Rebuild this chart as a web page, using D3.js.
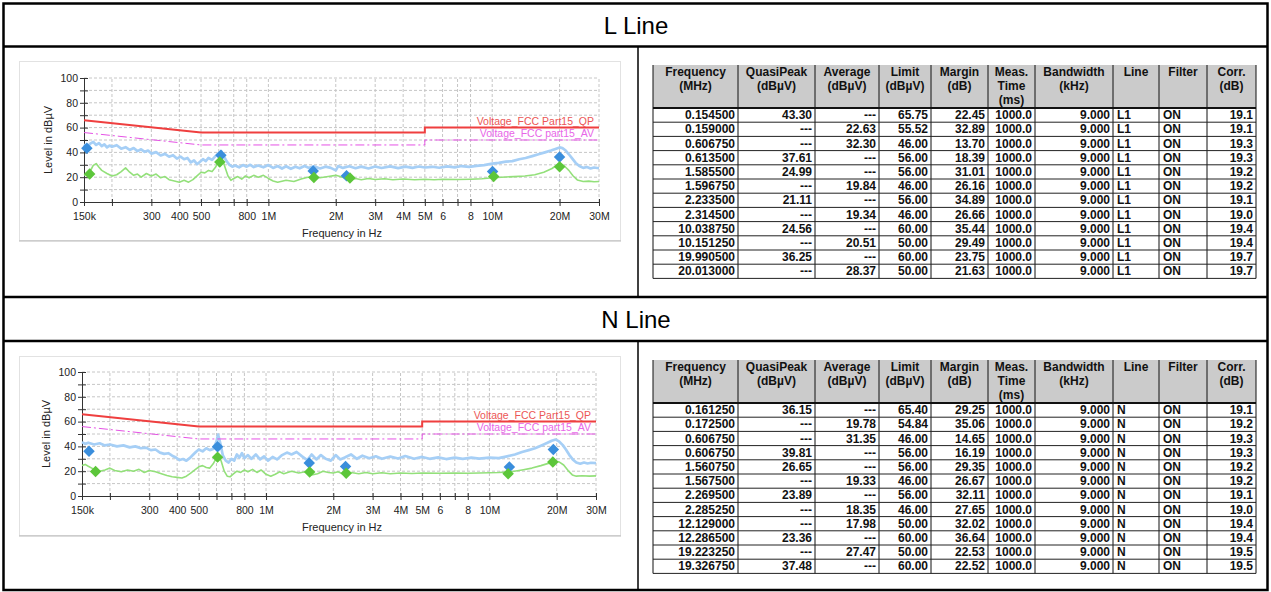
<!DOCTYPE html>
<html lang="en">
<head>
<meta charset="UTF-8">
<title>L Line / N Line</title>
<script src="https://d3js.org/d3.v7.min.js"></script>
<style>
    body {
        margin: 0;
        background: #fff;
    }
    svg {
        display: block;
        font-family: Arial, "Liberation Sans", sans-serif;
    }
    .grid line {
        stroke: #c6c6c6;
        stroke-dasharray: 3, 2;
    }
    .axis text {
        font-size: 10.5px;
    }
    .axis-title {
        font-size: 11px;
        fill: #222;
    }
    .tbl text {
        font-size: 12px;
        font-weight: bold;
        fill: #111;
    }
</style>
</head>
<body>
<svg id="page" width="1271" height="592"></svg>
<script>
// ---- data (frequency in MHz, level in dBuV) ----
const xTickValues = [0.15, 0.2, 0.3, 0.4, 0.5, 0.6, 0.7, 0.8, 1, 2, 3, 4, 5, 6, 7, 8, 10, 20, 30];
const xTickLabels = ["150k", "", "300", "400", "500", "", "", "800", "1M", "2M", "3M", "4M", "5M", "6", "", "8", "10M", "20M", "30M"];
const yTickValues = [0, 10, 20, 30, 40, 50, 60, 70, 80, 90, 100];

const qpLimit = [[0.15, 66], [0.5, 56], [5, 56], [5, 60], [30, 60]];
const avLimit = [[0.15, 56], [0.5, 46], [5, 46], [5, 50], [30, 50]];

const lPeak = [
    [0.150, 46.5], [0.155, 44.5], [0.160, 47.0], [0.165, 48.5], [0.170, 46.0], [0.175, 47.5], [0.180, 45.0],
    [0.185, 46.5], [0.190, 44.0], [0.195, 45.5], [0.200, 44.5], [0.210, 45.8], [0.220, 43.0], [0.230, 44.2],
    [0.240, 42.0], [0.250, 43.5], [0.260, 41.0], [0.270, 42.5], [0.280, 40.5], [0.290, 41.5], [0.300, 39.0],
    [0.315, 40.2], [0.330, 37.5], [0.345, 38.8], [0.360, 36.5], [0.375, 37.8], [0.390, 35.0], [0.405, 36.6],
    [0.420, 34.5], [0.435, 35.5], [0.450, 32.0], [0.465, 33.5], [0.480, 30.5], [0.495, 32.5], [0.510, 34.5],
    [0.525, 33.0], [0.540, 35.5], [0.560, 34.0], [0.580, 37.0], [0.600, 39.5], [0.615, 41.0], [0.630, 37.5],
    [0.650, 33.0], [0.670, 30.0], [0.690, 28.5], [0.710, 29.5], [0.740, 28.0], [0.770, 29.8], [0.800, 28.5],
    [0.830, 30.0], [0.860, 28.2], [0.900, 29.5], [0.950, 28.0], [1.000, 29.8], [1.050, 27.5], [1.100, 29.0],
    [1.150, 27.0], [1.200, 28.8], [1.260, 26.8], [1.320, 28.5], [1.380, 27.2], [1.450, 29.0], [1.520, 27.5],
    [1.600, 28.8], [1.700, 27.0], [1.800, 28.5], [1.900, 27.5], [2.000, 25.5], [2.050, 29.0], [2.150, 27.5],
    [2.300, 28.8], [2.450, 27.2], [2.600, 28.5], [2.800, 27.0], [3.000, 28.6], [3.200, 27.4], [3.500, 28.7],
    [3.800, 27.3], [4.100, 28.5], [4.400, 27.5], [4.700, 28.6], [5.000, 27.8], [5.400, 28.4], [5.800, 27.6],
    [6.300, 28.7], [6.800, 27.9], [7.300, 29.0], [7.900, 28.3], [8.500, 29.2], [9.200, 29.8], [10.00, 31.0],
    [10.70, 31.5], [11.50, 32.5], [12.30, 33.0], [13.20, 34.5], [14.10, 35.5], [15.10, 37.0], [16.10, 38.5],
    [17.20, 40.0], [18.30, 41.5], [19.30, 43.0], [20.00, 44.0], [20.60, 43.5], [21.30, 41.5], [22.00, 38.5],
    [22.80, 35.0], [23.60, 31.5], [24.50, 29.0], [25.50, 27.5], [26.50, 28.2], [27.50, 27.0], [28.50, 27.8],
    [30.00, 27.2]
];

const lAvg = [
    [0.150, 21.5], [0.155, 22.5], [0.160, 25.0], [0.165, 29.5], [0.170, 31.0], [0.175, 28.0], [0.180, 25.5],
    [0.190, 23.0], [0.200, 21.0], [0.210, 22.0], [0.220, 24.5], [0.230, 27.5], [0.240, 24.0], [0.250, 21.5],
    [0.260, 22.5], [0.270, 20.0], [0.285, 23.0], [0.300, 21.0], [0.315, 22.5], [0.330, 19.5], [0.345, 20.5],
    [0.360, 18.0], [0.380, 17.0], [0.400, 16.0], [0.420, 17.5], [0.440, 16.0], [0.460, 18.0], [0.480, 21.0],
    [0.500, 24.0], [0.520, 23.5], [0.540, 25.5], [0.560, 24.5], [0.580, 28.0], [0.600, 33.0], [0.620, 35.5],
    [0.640, 28.0], [0.660, 21.0], [0.680, 17.5], [0.700, 19.0], [0.730, 20.5], [0.760, 18.5], [0.790, 21.0],
    [0.820, 19.5], [0.860, 21.5], [0.900, 20.0], [0.950, 21.5], [1.000, 19.0], [1.050, 17.0], [1.100, 16.0],
    [1.200, 17.5], [1.300, 16.5], [1.400, 18.5], [1.500, 20.0], [1.600, 20.5], [1.700, 19.5], [1.850, 20.5],
    [2.000, 21.5], [2.150, 20.0], [2.300, 17.5], [2.450, 19.0], [2.600, 18.0], [2.800, 19.0], [3.000, 18.2],
    [3.300, 18.8], [3.600, 18.0], [4.000, 18.6], [4.500, 18.0], [5.000, 18.4], [5.500, 18.0], [6.000, 18.3],
    [7.000, 18.1], [8.000, 18.4], [9.000, 18.8], [10.00, 19.5], [11.00, 20.0], [12.50, 20.5], [14.00, 21.0],
    [15.50, 22.0], [17.00, 24.0], [18.50, 27.0], [19.50, 30.0], [20.20, 31.0], [21.00, 29.0], [22.00, 25.5],
    [23.00, 21.0], [24.00, 17.8], [25.50, 16.5], [27.00, 16.8], [28.50, 16.3], [30.00, 16.5]
];

const nPeak = [
    [0.150, 43.5], [0.155, 42.0], [0.160, 43.0], [0.170, 41.5], [0.180, 42.5], [0.190, 40.8], [0.200, 41.5],
    [0.215, 40.0], [0.230, 40.8], [0.245, 39.2], [0.260, 40.0], [0.275, 38.5], [0.290, 39.0], [0.305, 37.0],
    [0.320, 37.5], [0.335, 35.0], [0.350, 34.0], [0.365, 34.5], [0.380, 32.5], [0.395, 31.0], [0.410, 29.0],
    [0.425, 29.8], [0.440, 28.5], [0.455, 30.5], [0.470, 33.0], [0.485, 35.5], [0.500, 37.5], [0.520, 36.0],
    [0.540, 38.5], [0.560, 37.0], [0.580, 38.0], [0.600, 44.0], [0.610, 49.5], [0.625, 42.0], [0.640, 33.0],
    [0.660, 28.5], [0.680, 27.0], [0.700, 30.0], [0.720, 28.5], [0.740, 33.5], [0.760, 31.0], [0.780, 34.5],
    [0.800, 30.5], [0.830, 33.0], [0.860, 30.0], [0.900, 33.5], [0.940, 29.5], [0.980, 32.0], [1.020, 28.5],
    [1.070, 31.5], [1.120, 29.5], [1.180, 33.0], [1.240, 35.0], [1.300, 33.5], [1.370, 35.5], [1.450, 32.0],
    [1.530, 29.0], [1.600, 33.5], [1.680, 29.5], [1.760, 33.0], [1.850, 30.0], [1.950, 28.5], [2.050, 33.0],
    [2.150, 29.5], [2.250, 31.0], [2.400, 33.5], [2.550, 30.0], [2.700, 32.5], [2.900, 30.5], [3.100, 32.0],
    [3.300, 30.0], [3.600, 31.8], [3.900, 30.2], [4.200, 32.2], [4.600, 30.0], [5.000, 31.5], [5.400, 30.0],
    [5.900, 31.2], [6.400, 29.8], [7.000, 31.0], [7.600, 30.0], [8.300, 31.0], [9.000, 30.2], [10.00, 31.0],
    [11.00, 30.5], [12.00, 32.0], [13.00, 33.5], [14.00, 35.5], [15.00, 37.0], [16.00, 38.5], [17.00, 40.5],
    [18.00, 42.5], [19.00, 44.5], [19.80, 45.5], [20.50, 44.0], [21.30, 41.0], [22.00, 37.5], [22.80, 33.0],
    [23.60, 29.5], [24.50, 27.0], [25.50, 26.0], [26.50, 27.0], [27.50, 26.2], [28.50, 26.8], [30.00, 26.5]
];

const nAvg = [
    [0.150, 24.5], [0.155, 25.5], [0.160, 24.0], [0.170, 21.5], [0.180, 20.0], [0.190, 21.0], [0.200, 22.5],
    [0.210, 20.5], [0.225, 19.5], [0.240, 21.0], [0.255, 20.0], [0.270, 21.5], [0.285, 19.0], [0.300, 20.5],
    [0.320, 19.5], [0.340, 18.0], [0.360, 16.5], [0.380, 15.5], [0.400, 15.0], [0.420, 14.5], [0.440, 16.0],
    [0.460, 18.5], [0.480, 21.0], [0.500, 23.5], [0.520, 24.5], [0.540, 23.0], [0.560, 22.5], [0.580, 26.0],
    [0.600, 31.0], [0.615, 33.0], [0.630, 28.0], [0.650, 20.0], [0.670, 16.0], [0.690, 15.5], [0.710, 17.5],
    [0.740, 20.0], [0.770, 19.0], [0.800, 21.0], [0.830, 19.5], [0.870, 21.5], [0.910, 19.0], [0.950, 21.0],
    [1.000, 17.5], [1.050, 16.0], [1.100, 17.5], [1.150, 19.5], [1.200, 18.0], [1.300, 20.0], [1.400, 18.5],
    [1.500, 19.5], [1.600, 17.0], [1.700, 18.0], [1.800, 20.0], [1.900, 19.0], [2.000, 18.5], [2.100, 19.5],
    [2.200, 18.0], [2.400, 19.0], [2.600, 18.0], [2.800, 19.0], [3.000, 18.0], [3.300, 18.8], [3.600, 18.0],
    [4.000, 18.6], [4.500, 18.2], [5.000, 18.5], [6.000, 18.3], [7.000, 18.6], [8.000, 18.4], [9.000, 18.6],
    [10.00, 18.8], [11.00, 19.0], [12.50, 19.5], [14.00, 21.0], [15.50, 22.5], [17.00, 24.5], [18.50, 26.5],
    [19.50, 28.0], [20.50, 27.5], [21.50, 25.0], [22.50, 20.5], [23.50, 17.0], [24.50, 16.0], [26.00, 16.3],
    [28.00, 16.0], [30.00, 16.2]
];

const tableHeaders = [
    ["Frequency", "(MHz)"], ["QuasiPeak", "(dBµV)"], ["Average", "(dBµV)"], ["Limit", "(dBµV)"],
    ["Margin", "(dB)"], ["Meas.", "Time", "(ms)"], ["Bandwidth", "(kHz)"], ["Line"], ["Filter"], ["Corr.", "(dB)"]
];

const lRows = [
    ["0.154500", "43.30", "---", "65.75", "22.45", "1000.0", "9.000", "L1", "ON", "19.1"],
    ["0.159000", "---", "22.63", "55.52", "32.89", "1000.0", "9.000", "L1", "ON", "19.1"],
    ["0.606750", "---", "32.30", "46.00", "13.70", "1000.0", "9.000", "L1", "ON", "19.3"],
    ["0.613500", "37.61", "---", "56.00", "18.39", "1000.0", "9.000", "L1", "ON", "19.3"],
    ["1.585500", "24.99", "---", "56.00", "31.01", "1000.0", "9.000", "L1", "ON", "19.2"],
    ["1.596750", "---", "19.84", "46.00", "26.16", "1000.0", "9.000", "L1", "ON", "19.2"],
    ["2.233500", "21.11", "---", "56.00", "34.89", "1000.0", "9.000", "L1", "ON", "19.1"],
    ["2.314500", "---", "19.34", "46.00", "26.66", "1000.0", "9.000", "L1", "ON", "19.0"],
    ["10.038750", "24.56", "---", "60.00", "35.44", "1000.0", "9.000", "L1", "ON", "19.4"],
    ["10.151250", "---", "20.51", "50.00", "29.49", "1000.0", "9.000", "L1", "ON", "19.4"],
    ["19.990500", "36.25", "---", "60.00", "23.75", "1000.0", "9.000", "L1", "ON", "19.7"],
    ["20.013000", "---", "28.37", "50.00", "21.63", "1000.0", "9.000", "L1", "ON", "19.7"]
];

const nRows = [
    ["0.161250", "36.15", "---", "65.40", "29.25", "1000.0", "9.000", "N", "ON", "19.1"],
    ["0.172500", "---", "19.78", "54.84", "35.06", "1000.0", "9.000", "N", "ON", "19.2"],
    ["0.606750", "---", "31.35", "46.00", "14.65", "1000.0", "9.000", "N", "ON", "19.3"],
    ["0.606750", "39.81", "---", "56.00", "16.19", "1000.0", "9.000", "N", "ON", "19.3"],
    ["1.560750", "26.65", "---", "56.00", "29.35", "1000.0", "9.000", "N", "ON", "19.2"],
    ["1.567500", "---", "19.33", "46.00", "26.67", "1000.0", "9.000", "N", "ON", "19.2"],
    ["2.269500", "23.89", "---", "56.00", "32.11", "1000.0", "9.000", "N", "ON", "19.1"],
    ["2.285250", "---", "18.35", "46.00", "27.65", "1000.0", "9.000", "N", "ON", "19.0"],
    ["12.129000", "---", "17.98", "50.00", "32.02", "1000.0", "9.000", "N", "ON", "19.4"],
    ["12.286500", "23.36", "---", "60.00", "36.64", "1000.0", "9.000", "N", "ON", "19.4"],
    ["19.223250", "---", "27.47", "50.00", "22.53", "1000.0", "9.000", "N", "ON", "19.5"],
    ["19.326750", "37.48", "---", "60.00", "22.52", "1000.0", "9.000", "N", "ON", "19.5"]
];

// ---- layout ----
const colEdges = [653, 738, 815, 879, 931, 988, 1035, 1113, 1159, 1207, 1256];
const colAlign = ["end", "end", "end", "end", "end", "end", "end", "start", "start", "end"];
const rowH = 14.2;

const svg = d3.select("#page");

// outer frame
const frame = svg.append("g").attr("stroke", "#000").attr("fill", "none");
frame.append("rect").attr("x", 3.5).attr("y", 3.5).attr("width", 1264).attr("height", 586.5).attr("stroke-width", 2.5);
[46.5, 297, 341].forEach(y => {
    frame.append("line").attr("x1", 3).attr("x2", 1268).attr("y1", y).attr("y2", y).attr("stroke-width", 2.5);
});
frame.append("line").attr("x1", 638).attr("x2", 638).attr("y1", 47).attr("y2", 296).attr("stroke-width", 1.5);
frame.append("line").attr("x1", 638).attr("x2", 638).attr("y1", 342).attr("y2", 590).attr("stroke-width", 1.5);

svg.append("text").attr("x", 636).attr("y", 34).attr("text-anchor", "middle")
    .style("font-size", "24px").text("L Line");
svg.append("text").attr("x", 636).attr("y", 328).attr("text-anchor", "middle")
    .style("font-size", "24px").text("N Line");

function drawChart(peak, avg, rows, box, plot) {
    const g = svg.append("g");

    // panel
    g.append("rect").attr("x", box.x + 0.5).attr("y", box.y + 0.5).attr("width", box.w).attr("height", box.h)
        .attr("fill", "#fff").attr("stroke", "#e2e2e2");
    g.append("line").attr("x1", box.x).attr("x2", box.x + box.w + 1)
        .attr("y1", box.y + box.h + 1).attr("y2", box.y + box.h + 1).attr("stroke", "#b9b9b9");

    const x = d3.scaleLog().domain([0.15, 30]).range([plot.x0, plot.x1]);
    const y = d3.scaleLinear().domain([0, 100]).range([plot.y0, plot.y1]);

    // grid
    const grid = g.append("g").attr("class", "grid");
    grid.selectAll(".vg").data(xTickValues.slice(1)).enter().append("line")
        .attr("x1", d => x(d)).attr("x2", d => x(d)).attr("y1", y(0)).attr("y2", y(100));
    grid.selectAll(".hg").data(yTickValues.slice(1)).enter().append("line")
        .attr("x1", x(0.15)).attr("x2", x(30)).attr("y1", d => y(d)).attr("y2", d => y(d));

    // axes
    const xAxis = g.append("g").attr("class", "axis").attr("transform", `translate(0,${plot.y0})`)
        .style("color", "#222")
        .call(d3.axisBottom(x).tickValues(xTickValues).tickFormat((d, i) => xTickLabels[i])
            .tickSizeInner(4).tickSizeOuter(0).tickPadding(6.5));
    xAxis.selectAll(".tick line").attr("y1", -3).attr("stroke", "#333");
    xAxis.select(".domain").attr("stroke", "#333");

    const yAxis = g.append("g").attr("class", "axis").attr("transform", `translate(${plot.x0},0)`)
        .style("color", "#222")
        .call(d3.axisLeft(y).tickValues(yTickValues).tickFormat(d => d % 20 === 0 ? d : "")
            .tickSizeInner(4).tickSizeOuter(0).tickPadding(2));
    yAxis.selectAll(".tick line").attr("x1", 4).attr("stroke", "#333");
    yAxis.select(".domain").attr("stroke", "#333");

    g.append("text").attr("class", "axis-title")
        .attr("transform", `translate(${plot.x0 - 32},${(plot.y0 + plot.y1) / 2}) rotate(-90)`)
        .attr("text-anchor", "middle").text("Level in dBµV");
    g.append("text").attr("class", "axis-title")
        .attr("x", 342).attr("y", plot.y0 + 35).attr("text-anchor", "middle").text("Frequency in Hz");

    const line = d3.line().x(d => x(d[0])).y(d => y(d[1]));

    // measured traces
    g.append("path").datum(peak).attr("d", line).attr("fill", "none")
        .attr("stroke", "#a6cff6").attr("stroke-width", 2.7).attr("stroke-linejoin", "round");
    g.append("path").datum(avg).attr("d", line).attr("fill", "none")
        .attr("stroke", "#93e07a").attr("stroke-width", 1.6).attr("stroke-linejoin", "round");

    // limits
    g.append("path").datum(qpLimit).attr("d", line).attr("fill", "none")
        .attr("stroke", "#ef3f3f").attr("stroke-width", 2);
    g.append("path").datum(avLimit).attr("d", line).attr("fill", "none")
        .attr("stroke", "#e552e5").attr("stroke-width", 1).attr("stroke-dasharray", "9,3,2,3");

    g.append("text").attr("x", x(30) - 5).attr("y", y(60) - 3).attr("text-anchor", "end")
        .style("font-size", "10.5px").attr("fill", "#ec5656").text("Voltage_FCC Part15_QP");
    g.append("text").attr("x", x(30) - 5).attr("y", y(50) - 3).attr("text-anchor", "end")
        .style("font-size", "10.5px").attr("fill", "#e866e8").text("Voltage_FCC part15_AV");

    // final measurement markers
    const diamond = d3.symbol().type(d3.symbolSquare).size(66);
    const qpPts = rows.filter(r => r[1] !== "---").map(r => [+r[0], +r[1]]);
    const avPts = rows.filter(r => r[2] !== "---").map(r => [+r[0], +r[2]]);
    g.selectAll(".qp").data(qpPts).enter().append("path")
        .attr("d", diamond).attr("fill", "#3a8edc")
        .attr("transform", d => `translate(${x(d[0])},${y(d[1])}) rotate(45)`);
    g.selectAll(".av").data(avPts).enter().append("path")
        .attr("d", diamond).attr("fill", "#5cc63a")
        .attr("transform", d => `translate(${x(d[0])},${y(d[1])}) rotate(45)`);
}

function drawTable(rows, top, headBottom) {
    const g = svg.append("g").attr("class", "tbl");
    const left = colEdges[0], right = colEdges[colEdges.length - 1];
    const bottom = headBottom + rows.length * rowH;

    g.append("rect").attr("x", left).attr("y", top).attr("width", right - left).attr("height", headBottom - top)
        .attr("fill", "#cbcbcb");

    // header text
    tableHeaders.forEach((lines, c) => {
        const cx = (colEdges[c] + colEdges[c + 1]) / 2;
        lines.forEach((t, k) => {
            g.append("text").attr("x", cx).attr("y", top + 11 + k * 14).attr("text-anchor", "middle").text(t);
        });
    });

    // body text
    rows.forEach((r, i) => {
        const by = headBottom + i * rowH + rowH - 3;
        r.forEach((t, c) => {
            const tx = colAlign[c] === "end" ? colEdges[c + 1] - 3 : colEdges[c] + 4;
            g.append("text").attr("x", tx).attr("y", by).attr("text-anchor", colAlign[c]).text(t);
        });
    });

    // grid lines
    colEdges.forEach(cx => {
        g.append("line").attr("x1", cx).attr("x2", cx).attr("y1", top).attr("y2", bottom)
            .attr("stroke", "#111").attr("stroke-width", 1);
    });
    rows.forEach((r, i) => {
        const ly = headBottom + (i + 1) * rowH;
        g.append("line").attr("x1", left).attr("x2", right).attr("y1", ly).attr("y2", ly)
            .attr("stroke", "#222").attr("stroke-width", 1);
    });
    g.append("line").attr("x1", left).attr("x2", right).attr("y1", headBottom).attr("y2", headBottom)
        .attr("stroke", "#111").attr("stroke-width", 2);
}

drawChart(lPeak, lAvg, lRows, { x: 19, y: 61, w: 601, h: 179 }, { x0: 84, x1: 599, y0: 202, y1: 78 });
drawChart(nPeak, nAvg, nRows, { x: 19, y: 356, w: 601, h: 179 }, { x0: 82, x1: 596, y0: 496, y1: 372 });
drawTable(lRows, 65, 108);
drawTable(nRows, 360, 403);
</script>
</body>
</html>
